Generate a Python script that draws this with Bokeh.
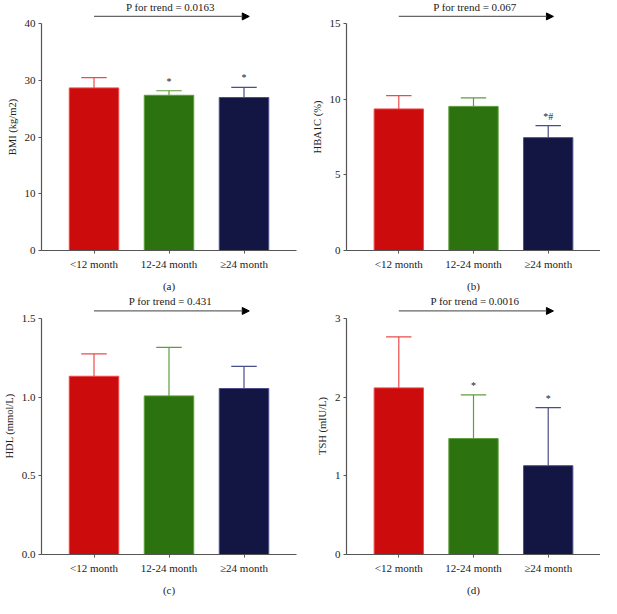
from bokeh.plotting import figure
from bokeh.layouts import gridplot
from bokeh.models import FixedTicker, Range1d, Arrow, NormalHead, Label, ColumnDataSource, PrintfTickFormatter
from bokeh.core.properties import value
from bokeh.embed import file_html
from bokeh.resources import INLINE

categories = ["<12 month", "12-24 month", "≥24 month"]
positions = [1, 2, 3]
fill_colors = ["#CC0C0C", "#2C720E", "#131542"]
edge_colors = ["#EE4A4A", "#5E9E3E", "#4A4E88"]

bmi_mean = [28.7, 27.4, 27.0]
bmi_sd = [1.8, 0.8, 1.8]
bmi_sig = ["", "*", "*"]
bmi_ticks = [0, 10, 20, 30, 40]

hba1c_mean = [9.37, 9.54, 7.47]
hba1c_sd = [0.88, 0.56, 0.79]
hba1c_sig = ["", "", "*#"]
hba1c_ticks = [0, 5, 10, 15]

hdl_mean = [1.134, 1.009, 1.056]
hdl_sd = [0.142, 0.309, 0.141]
hdl_sig = ["", "", ""]
hdl_ticks = [0.0, 0.5, 1.0, 1.5]

tsh_mean = [2.12, 1.475, 1.13]
tsh_sd = [0.65, 0.555, 0.74]
tsh_sig = ["", "*", "*"]
tsh_ticks = [0, 1, 2, 3]

trend_texts = ["P for trend = 0.0163", "P for trend = 0.067", "P for trend = 0.431", "P for trend = 0.0016"]
panel_letters = ["(a)", "(b)", "(c)", "(d)"]
y_labels = ["BMI (kg/m2)", "HBA1C (%)", "HDL (mmol/L)", "TSH (mIU/L)"]

FONT = "Liberation Serif"
AXIS_COLOR = "#555555"


def make_panel(mean, sd, sig, ticks, fmt, ylabel, trend, letter, width, height, left_border, right_border):
    ytop = ticks[-1]
    p = figure(width=width, height=height, output_backend="svg", toolbar_location=None,
               x_range=Range1d(0.3, 3.7), y_range=Range1d(0, ytop * 1.09),
               min_border_left=left_border, min_border_right=right_border,
               min_border_top=3, min_border_bottom=0)
    upper = [m + s for m, s in zip(mean, sd)]
    src = ColumnDataSource(dict(x=positions, top=mean, upper=upper,
                                fill=fill_colors, edge=edge_colors, sig=sig,
                                cl=[x - 0.17 for x in positions], cr=[x + 0.17 for x in positions]))
    p.vbar(x="x", top="top", width=0.66, fill_color="fill", line_color="edge", line_width=1, source=src)
    p.segment(x0="x", y0="top", x1="x", y1="upper", line_color="edge", line_width=1.2, source=src)
    p.segment(x0="cl", y0="upper", x1="cr", y1="upper", line_color="edge", line_width=1.2, source=src)
    p.text(x="x", y="upper", text="sig", text_align="center", text_baseline="bottom",
           y_offset=-4, text_font=value(FONT), text_font_size="10px", text_color="#222222", source=src)

    p.add_layout(Arrow(end=NormalHead(size=7, fill_color="black", line_color="black"),
                       x_start=1.0, y_start=ytop * 1.033, x_end=3.07, y_end=ytop * 1.033,
                       line_color="#666666", line_width=1.3))
    p.add_layout(Label(x=2.02, y=ytop * 1.074, text=trend, text_align="center", text_baseline="middle",
                       text_font=FONT, text_font_size="11px", text_color="#222222"))

    p.xgrid.grid_line_color = None
    p.ygrid.grid_line_color = None
    p.outline_line_color = None

    for ax in (p.xaxis[0], p.yaxis[0]):
        ax.axis_line_color = AXIS_COLOR
        ax.axis_line_width = 1.2
        ax.major_tick_line_color = AXIS_COLOR
        ax.major_tick_in = 0
        ax.major_tick_out = 3
        ax.minor_tick_line_color = None
        ax.major_label_text_font = FONT
        ax.major_label_text_font_size = "11px"
        ax.major_label_text_color = "#222222"
        ax.axis_label_text_font = FONT
        ax.axis_label_text_font_size = "10.5px"
        ax.axis_label_text_font_style = "normal"
        ax.axis_label_text_color = "#222222"

    p.yaxis.ticker = FixedTicker(ticks=ticks)
    p.yaxis.bounds = (0, ytop)
    p.yaxis.formatter = PrintfTickFormatter(format=fmt)
    p.yaxis.axis_label = ylabel
    p.yaxis.major_label_standoff = 3
    p.yaxis.axis_label_standoff = 4

    p.xaxis.ticker = FixedTicker(ticks=positions)
    p.xaxis.major_label_overrides = {pos: cat for pos, cat in zip(positions, categories)}
    p.xaxis.axis_label = letter
    p.xaxis.axis_label_text_font_size = "11px"
    p.xaxis.major_label_standoff = 4
    p.xaxis.axis_label_standoff = 7
    return p


pa = make_panel(bmi_mean, bmi_sd, bmi_sig, bmi_ticks, "%d", y_labels[0], trend_texts[0], panel_letters[0], 300, 294, 0, 4)
pb = make_panel(hba1c_mean, hba1c_sd, hba1c_sig, hba1c_ticks, "%d", y_labels[1], trend_texts[1], panel_letters[1], 300, 294, 46, 0)
pc = make_panel(hdl_mean, hdl_sd, hdl_sig, hdl_ticks, "%.1f", y_labels[2], trend_texts[2], panel_letters[2], 300, 304, 0, 4)
pd_ = make_panel(tsh_mean, tsh_sd, tsh_sig, tsh_ticks, "%d", y_labels[3], trend_texts[3], panel_letters[3], 300, 304, 46, 0)

grid = gridplot([[pa, pb], [pc, pd_]], toolbar_location=None)

open("out.html", "w").write(file_html(grid, INLINE))
